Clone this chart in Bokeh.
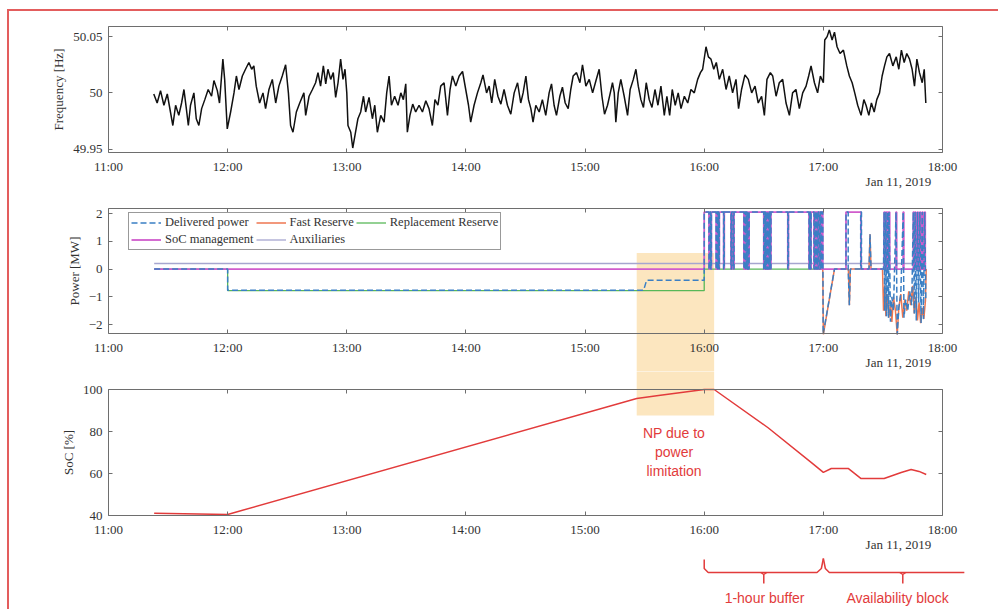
import numpy as np
import pandas as pd
from bokeh.plotting import figure
from bokeh.layouts import column, row
from bokeh.models import (Range1d, FixedTicker, DatetimeTickFormatter, DatetimeAxis,
                          LinearAxis, BoxAnnotation, Label, Legend, LegendItem, Spacer)
from bokeh.embed import file_html
from bokeh.resources import INLINE

BASE = pd.Timestamp("2019-01-11 11:00")

# ---------------- data (minutes after 11:00) ----------------
hour_ticks_min = [0, 60, 120, 180, 240, 300, 360, 420]

freq_min = [22.8, 24.5, 26.2, 27.9, 29.6, 31.2, 32.4, 33.8, 35.4, 36.8, 38.0, 39.2, 40.2, 41.3, 43.0, 44.2,
            45.5, 46.9, 48.5, 50.2, 51.9, 53.1, 54.8, 55.9, 57.6, 58.5, 59.8, 61.5, 63.2, 64.4, 65.7, 67.4,
            69.0, 70.7, 72.1, 73.2, 74.4, 76.1, 77.8, 79.1, 80.8, 82.5, 84.2, 85.8, 87.5, 89.2, 90.6, 91.7,
            92.9, 94.6, 96.3, 98.4,
            99.3, 101.0, 102.7, 104.3, 105.5, 106.8, 108.2, 109.4, 110.5, 111.9, 113.2, 114.4, 115.6, 116.9,
            118.1, 119.1, 120.0, 120.6, 122.0, 123.0, 124.1, 125.6, 127.0, 128.4, 129.5, 131.2, 132.9, 134.1,
            135.4, 137.1, 138.8, 140.1, 141.3, 142.5, 144.1, 145.8, 147.2, 148.5, 149.7, 150.5, 151.8, 153.2,
            154.7, 156.4, 158.1, 159.8, 161.4, 163.1, 164.4, 165.9, 167.3, 169.0, 170.7, 172.0, 173.2, 174.9,
            176.6,
            178.3, 179.9, 181.3, 182.4, 184.1, 185.8, 187.5, 188.6, 190.4, 191.7, 193.0, 194.5, 196.1, 197.6,
            199.2, 200.9, 202.6, 204.3, 206.0, 207.6, 208.8, 210.2, 211.5, 212.7, 213.8, 215.2, 216.9, 218.5,
            220.2, 221.9, 223.1, 224.4, 225.6, 227.3, 228.6, 230.0, 231.5, 232.8, 234.0, 235.7, 237.4, 238.7,
            240.4, 242.1, 243.8, 245.5, 247.1, 248.5, 249.8, 251.3, 252.7, 253.8,
            254.7, 255.5, 256.7, 258.0, 259.7, 261.4, 262.7, 264.3, 265.6, 266.8, 268.1, 269.4, 270.8, 272.3,
            273.7, 275.2, 276.7, 278.2, 279.9, 281.2, 282.6, 283.9, 285.4, 286.9, 288.3, 290.0, 291.7, 293.3,
            295.0, 296.7, 298.1, 299.2, 300.9, 302.1, 303.4, 304.8, 306.1, 307.6, 309.3, 311.0, 312.6, 314.3,
            316.0, 317.3, 318.8, 320.5, 322.2, 323.9, 325.6, 327.2, 328.9, 330.3, 331.6, 333.3,
            334.5, 336.2, 337.8, 339.5, 341.2, 342.9, 344.5, 346.2, 347.9, 349.6, 351.3, 352.6, 353.8, 355.5,
            357.1, 358.5, 360.0, 360.7, 361.9, 363.0, 364.4, 365.6, 366.9, 368.4, 370.1, 371.8, 373.1, 374.5,
            375.8, 377.3, 379.0, 380.4, 381.5, 382.9, 384.2, 385.6, 386.9, 388.3, 389.6, 390.8, 392.0, 393.3,
            395.0, 396.7, 398.0, 399.3, 400.7, 402.0, 403.4, 404.7, 405.9, 407.1, 408.4, 409.8, 410.8, 411.6]

freq_hz = [49.999, 49.991, 50.002, 49.989, 49.999, 49.983, 49.971, 49.989, 49.980, 49.991, 50.003, 49.986,
           49.971, 49.989, 50.000, 49.977, 49.971, 49.986, 49.994, 50.003, 49.997, 50.011, 50.002, 49.991,
           50.030, 50.012, 49.968, 49.983, 50.000, 50.015, 50.003, 50.015, 50.021, 50.027, 50.021, 50.024,
           50.006, 49.991, 50.000, 49.986, 50.003, 50.012, 49.991, 50.006, 50.015, 50.025, 50.000, 49.971,
           49.965, 49.983, 49.991, 50.000,
           49.980, 49.997, 50.003, 50.009, 50.018, 50.006, 50.024, 50.008, 50.021, 50.012, 50.018, 49.996,
           50.009, 50.030, 50.012, 50.021, 50.000, 49.971, 49.965, 49.951, 49.962, 49.977, 49.983, 49.997,
           49.983, 49.996, 49.977, 49.989, 49.965, 49.980, 49.974, 50.000, 50.015, 49.989, 49.997, 49.989,
           50.000, 49.994, 50.008, 49.965, 49.980, 49.990, 49.983, 49.989, 49.983, 49.993, 49.986, 49.971,
           49.994, 49.989, 50.006, 50.009, 49.980, 50.003, 50.015, 50.006, 50.015,
           50.019, 50.003, 49.989, 49.974, 49.989, 50.000, 50.009, 50.016, 50.000, 50.006, 49.991, 50.012,
           49.997, 49.990, 50.003, 49.989, 49.981, 50.000, 50.009, 49.991, 50.000, 50.015, 49.994, 49.986,
           49.974, 49.989, 49.983, 49.994, 49.980, 50.000, 50.008, 49.989, 49.980, 49.997, 50.005, 49.991,
           49.986, 50.003, 50.015, 50.018, 50.009, 50.025, 50.006, 50.012, 50.000, 50.011, 50.021, 49.997,
           49.981, 49.989, 50.000, 50.009,
           50.000, 49.974, 50.000, 50.012, 49.997, 49.980, 50.003, 50.012, 50.021, 50.006, 49.994, 49.987,
           50.009, 49.994, 49.987, 50.003, 49.989, 50.006, 49.980, 49.997, 49.980, 50.003, 49.989, 50.000,
           49.986, 49.997, 49.991, 50.003, 50.000, 50.012, 50.018, 50.021, 50.041, 50.032, 50.030, 50.021,
           50.027, 50.012, 50.021, 50.003, 50.015, 50.000, 50.012, 49.986, 50.003, 50.016, 50.012, 50.000,
           50.006, 49.991, 49.997, 49.980, 50.012, 50.018,
           50.015, 49.997, 50.009, 50.012, 49.991, 49.980, 50.000, 50.003, 49.986, 50.000, 50.006, 50.015,
           50.024, 50.009, 50.000, 50.015, 50.009, 50.047, 50.050, 50.056, 50.047, 50.054, 50.041, 50.035,
           50.038, 50.024, 50.015, 50.009, 50.000, 49.989, 49.980, 49.994, 49.989, 49.980, 49.991, 49.983,
           49.994, 50.000, 50.015, 50.024, 50.032, 50.035, 50.024, 50.032, 50.021, 50.038, 50.027, 50.035,
           50.030, 50.021, 50.006, 50.030, 50.018, 50.009, 50.021, 49.991]

# Power panel
aux_min = [23, 411.8]
aux_mw = [0.2, 0.2]

repl_min = [23, 60, 60, 300, 300, 360]
repl_mw = [0, 0, -0.78, -0.78, 0, 0]

fast_min = [359.7, 360, 365.6, 372.6, 373.1, 373.6, 383.0, 383.5, 384.0, 389.8, 390.3, 390.9, 391.5,
            392.2, 393.0, 393.8, 394.5, 395.3, 396.3, 397.2, 398.0, 399.0, 400.0, 401.0, 402.0, 403.0, 404.0,
            405.0, 405.8, 406.6, 407.4, 408.2, 409.0, 409.8, 410.6, 411.4, 411.8]
fast_mw = [0, -2.35, 0, 0, -1.3, 0, 0, 1.25, 0, 0, -1.5, -0.6, -1.7, -0.9, -1.75, -1.2, -1.9, -1.0,
           -1.5, -2.35, -1.4, -0.9, -1.75, -1.1, -1.5, -0.8, -1.3, -0.6, -1.6, -1.0, -1.85, -1.2, -1.95,
           -1.4, -1.8, -1.15, 0]

soc_mgmt_top_mw = 2.05
# intervals where SoC management drops to 0 during 16:00-17:00
soc_mgmt_dips = [(302.4, 302.9), (303.3, 303.6), (306.0, 306.4), (306.8, 307.1), (307.4, 307.6),
                 (309.8, 310.1), (313.5, 313.8), (314.6, 315.0), (320.0, 320.4), (320.8, 321.2),
                 (321.6, 322.0), (322.3, 322.6), (330.0, 330.4), (330.8, 331.2), (331.6, 332.0),
                 (332.4, 332.8), (333.2, 333.6), (342.1, 342.4), (352.8, 353.1), (353.5, 353.8),
                 (355.3, 355.7), (356.2, 356.6), (357.0, 357.4), (358.0, 358.4), (358.8, 359.2)]
# intervals where SoC management is at full power after 17:00
soc_mgmt_pulses = [(371.4, 379.0), (390.6, 390.9), (391.5, 391.8), (392.4, 392.8), (393.1, 393.4),
                   (396.6, 396.9), (400.2, 400.5), (405.3, 405.6), (406.2, 406.5), (407.4, 407.7),
                   (408.6, 408.9), (409.8, 410.1), (411.0, 411.3)]

deliv_pre_min = [23, 60, 60, 269.5, 271, 300]
deliv_pre_mw = [0, 0, -0.76, -0.76, -0.4, -0.4]
deliv_post_min = [359.7, 359.9, 365.6, 371.4, 371.4, 372.5, 372.5, 373.1, 373.6, 378.8, 378.8, 379.2,
                  379.2, 383.0, 383.5, 384.0, 390.3, 390.6, 390.9, 391.5, 391.8, 392.4, 392.8, 393.1,
                  393.8, 394.5, 395.3, 396.6, 397.2, 398.0, 399.0, 400.2, 400.6, 401.5, 402.5, 403.5,
                  404.5, 405.3, 405.8, 406.2, 406.8, 407.4, 408.0, 408.6, 409.2, 409.8, 410.4, 411.0, 411.6]
deliv_post_mw = [2.05, -2.35, 0, 0, 2.05, 2.05, 0, -1.3, 0, 0, 2.05, 2.05, 0, 0, 1.25, 0, 0, 2.05, -1.5,
                 2.05, -1.7, 2.05, -1.75, 2.05, -1.9, -1.0, -1.5, 2.05, -2.35, -1.4, -0.9, 2.05, -1.75,
                 -1.1, -1.5, -0.8, -1.3, 2.05, -1.6, 2.05, -1.85, 2.05, -1.2, 2.05, -1.95, 2.05, -1.8,
                 2.05, -1.15]

# SoC panel
soc_min = [23, 60, 266, 277, 300, 305, 332, 354, 360, 364, 372.5, 379, 390.6, 399.2, 404.2, 408.2, 411.8]
soc_pct = [41.1, 40.5, 95.7, 97.1, 100, 100, 81.9, 65.2, 60.5, 62.4, 62.4, 57.6, 57.6, 60.5, 61.9, 61.0, 59.5]

np_window_min = (266, 305)      # "NP due to power limitation" window
buffer_min = (300, 360)         # 1-hour buffer
avail_min = (360, 431)          # availability block (bracket runs past 18:00)


# ---------------- helpers ----------------
def ms(m):
    return (BASE + pd.Timedelta(minutes=float(m))).value / 1e6


def dt(mins):
    return (BASE + pd.to_timedelta(np.asarray(mins, dtype=float), unit="m")).to_numpy()


def toggled(t0, t1, base, alt, intervals):
    xs, ys = [t0], [base]
    for a, b in intervals:
        xs += [a, a, b, b]
        ys += [base, alt, alt, base]
    xs.append(t1)
    ys.append(base)
    return xs, ys


FONT = "Liberation Serif"
SANS = "Liberation Sans"
AX = "#6e6e6e"
TXT = "#333333"
RED = "#e23b3b"
ORANGE = "#fce6bf"
W = 989            # canvas width
LEFT = 99          # px from canvas left to 11:00
AXIS_W = 834       # pixel width of the 11:00-18:00 span
X_START_MIN = -LEFT * 420 / AXIS_W
X_END_MIN = (W - LEFT) * 420 / AXIS_W   # frame extends past 18:00 so the brackets fit

xticker = FixedTicker(ticks=[ms(m) for m in hour_ticks_min])
xfmt = DatetimeTickFormatter(hours="%H:%M", hourmin="%H:%M", minutes="%H:%M", minsec="%H:%M",
                             days="%H:%M", seconds="%H:%M")


def make_panel(h, box_top, box_bot, lo, hi, ylabel, yticks, overrides=None):
    """Frame covers the full canvas; the boxed axes are pinned at 11:00-18:00 x lo..hi."""
    px = (box_bot - box_top) / (hi - lo)
    y0 = lo - (h - box_bot) / px
    y1 = hi + box_top / px
    p = figure(width=W, height=h, x_axis_type="datetime",
               x_range=Range1d(ms(X_START_MIN), ms(X_END_MIN)), y_range=Range1d(y0, y1),
               output_backend="svg", toolbar_location=None,
               min_border_left=0, min_border_right=0, min_border_top=0, min_border_bottom=0)
    p.grid.visible = False
    p.outline_line_color = None
    p.background_fill_color = "white"
    p.border_fill_color = "white"

    xb = p.below[0]
    yl = p.left[0]
    xb.ticker = xticker
    xb.formatter = xfmt
    xb.fixed_location = lo
    xb.bounds = (ms(0), ms(420))
    yt = FixedTicker(ticks=yticks)
    yl.ticker = yt
    yl.fixed_location = ms(0)
    yl.bounds = (lo, hi)
    if overrides:
        yl.major_label_overrides = overrides
    yl.axis_label = ylabel
    top = DatetimeAxis(ticker=xticker, formatter=xfmt, fixed_location=hi, bounds=(ms(0), ms(420)),
                       major_label_overrides={ms(m): "" for m in hour_ticks_min})
    right = LinearAxis(ticker=yt, fixed_location=ms(420), bounds=(lo, hi),
                       major_label_overrides={t: "" for t in yticks})
    p.add_layout(top, "above")
    p.add_layout(right, "right")
    for ax in [xb, yl, top, right]:
        ax.axis_line_color = AX
        ax.major_tick_line_color = AX
        ax.major_tick_in = 4
        ax.major_tick_out = 0
        ax.minor_tick_line_color = None
        ax.major_label_text_font = FONT
        ax.major_label_text_font_size = "13px"
        ax.major_label_text_color = TXT
        ax.major_label_standoff = 6
        ax.axis_label_text_font = FONT
        ax.axis_label_text_font_size = "13px"
        ax.axis_label_text_font_style = "normal"
        ax.axis_label_text_color = TXT
        ax.axis_label_standoff = 4
    for ax in [top, right]:
        ax.major_label_standoff = 0
    # date stamp under the right end of the axis
    p.add_layout(Label(x=ms(414.3), y=lo - 29 / px, text="Jan 11, 2019", text_align="right",
                       text_baseline="middle", text_font=FONT, text_font_size="13px", text_color=TXT))
    return p, px, y0, y1


# ---------------- panel 1: frequency ----------------
p1, px1, _, _ = make_panel(178, 15, 141, 49.947, 50.059, "Frequency [Hz]", [49.95, 50.0, 50.05],
                           {49.95: "49.95", 50.0: "50", 50.05: "50.05"})
p1.line(dt(freq_min), freq_hz, color="#111111", line_width=1.5)

# ---------------- panel 2: power ----------------
p2, px2, y0_2, y1_2 = make_panel(182, 19, 144, -2.32, 2.18, "Power [MW]", [-2, -1, 0, 1, 2])
p2.add_layout(BoxAnnotation(left=ms(np_window_min[0]), right=ms(np_window_min[1]), top=0.58,
                            bottom=y0_2 - 1, fill_color=ORANGE, fill_alpha=1, line_color=None,
                            level="underlay"))

sx1, sy1 = toggled(300, 359.7, soc_mgmt_top_mw, 0, soc_mgmt_dips)
sx2, sy2 = toggled(359.7, 411.8, 0, soc_mgmt_top_mw, soc_mgmt_pulses)
socm_x = [23, 300] + sx1 + sx2
socm_y = [0, 0] + sy1 + sy2
deliv_x = deliv_pre_min + sx1 + deliv_post_min
deliv_y = deliv_pre_mw + sy1 + deliv_post_mw

r_aux = p2.line(dt(aux_min), aux_mw, color="#a6a6cf", line_width=1.3)
r_repl = p2.line(dt(repl_min), repl_mw, color="#58b858", line_width=1.3)
r_fast = p2.line(dt(fast_min), fast_mw, color="#ee7650", line_width=1.5)
r_socm = p2.line(dt(socm_x), socm_y, color="#d05ccc", line_width=1.8)
r_deliv = p2.line(dt(deliv_x), deliv_y, color="#3a7fc4", line_width=1.5, line_dash="6 3")

legend = Legend(items=[LegendItem(label="Delivered power", renderers=[r_deliv]),
                       LegendItem(label="Fast Reserve", renderers=[r_fast]),
                       LegendItem(label="Replacement Reserve", renderers=[r_repl]),
                       LegendItem(label="SoC management", renderers=[r_socm]),
                       LegendItem(label="Auxiliaries", renderers=[r_aux])],
                location=(LEFT + 20, 121), orientation="horizontal", ncols=3,
                label_text_font=FONT, label_text_font_size="12.5px", label_text_color=TXT,
                glyph_width=30, glyph_height=13, label_height=13, label_standoff=4,
                spacing=2, padding=2, margin=0,
                border_line_color="#333333", border_line_width=1, background_fill_alpha=1)
p2.add_layout(legend)

# ---------------- panel 3: SoC ----------------
p3, px3, y0_3, y1_3 = make_panel(238, 18, 144, 40, 100, "SoC [%]", [40, 60, 80, 100])
p3.add_layout(BoxAnnotation(left=ms(np_window_min[0]), right=ms(np_window_min[1]), top=y1_3 + 2,
                            bottom=87.6, fill_color=ORANGE, fill_alpha=1, line_color=None,
                            level="underlay"))
p3.line(dt(soc_min), soc_pct, color=RED, line_width=1.5)

for txt, yy in [("NP due to", 79.5), ("power", 70.2), ("limitation", 61.4)]:
    p3.add_layout(Label(x=ms(284.8), y=yy, text=txt, text_align="center", text_baseline="middle",
                        text_font=SANS, text_font_size="14px", text_color=RED))


def below(px_off):
    """data value px_off pixels below the SoC axis box"""
    return 40 - px_off / px3


b0, b1 = buffer_min
a0, a1 = avail_min
bm = (b0 + b1) / 2
am = 400
brace_lines = [
    ([b0, b0, b0 + 2, b1 - 3.2, b1 - 1, b1], [below(44), below(53), below(57), below(57), below(53), below(43)]),
    ([b1, b1 + 1, b1 + 3, a1], [below(43), below(53), below(57), below(57)]),
    ([bm - 1.5, bm, bm, bm, bm + 1.5], [below(57), below(59), below(68), below(59), below(57)]),
    ([am - 1.5, am, am, am, am + 1.5], [below(57), below(59), below(68), below(59), below(57)]),
]
for xs, ys in brace_lines:
    p3.line(dt(xs), ys, color=RED, line_width=1.5)

p3.add_layout(Label(x=ms(bm + 0.4), y=below(82), text="1-hour buffer", text_align="center",
                    text_baseline="middle", text_font=SANS, text_font_size="14px", text_color=RED))
p3.add_layout(Label(x=ms(397.4), y=below(82), text="Availability block", text_align="center",
                    text_baseline="middle", text_font=SANS, text_font_size="14px", text_color=RED))

panels = column(p1, p2, p3, spacing=0,
                styles={"border-left": "2px solid #e35d5d", "border-top": "2px solid #e35d5d"})
layout = column(Spacer(height=9), row(Spacer(width=7), panels))

with open("out.html", "w") as f:
    f.write(file_html(layout, INLINE))
